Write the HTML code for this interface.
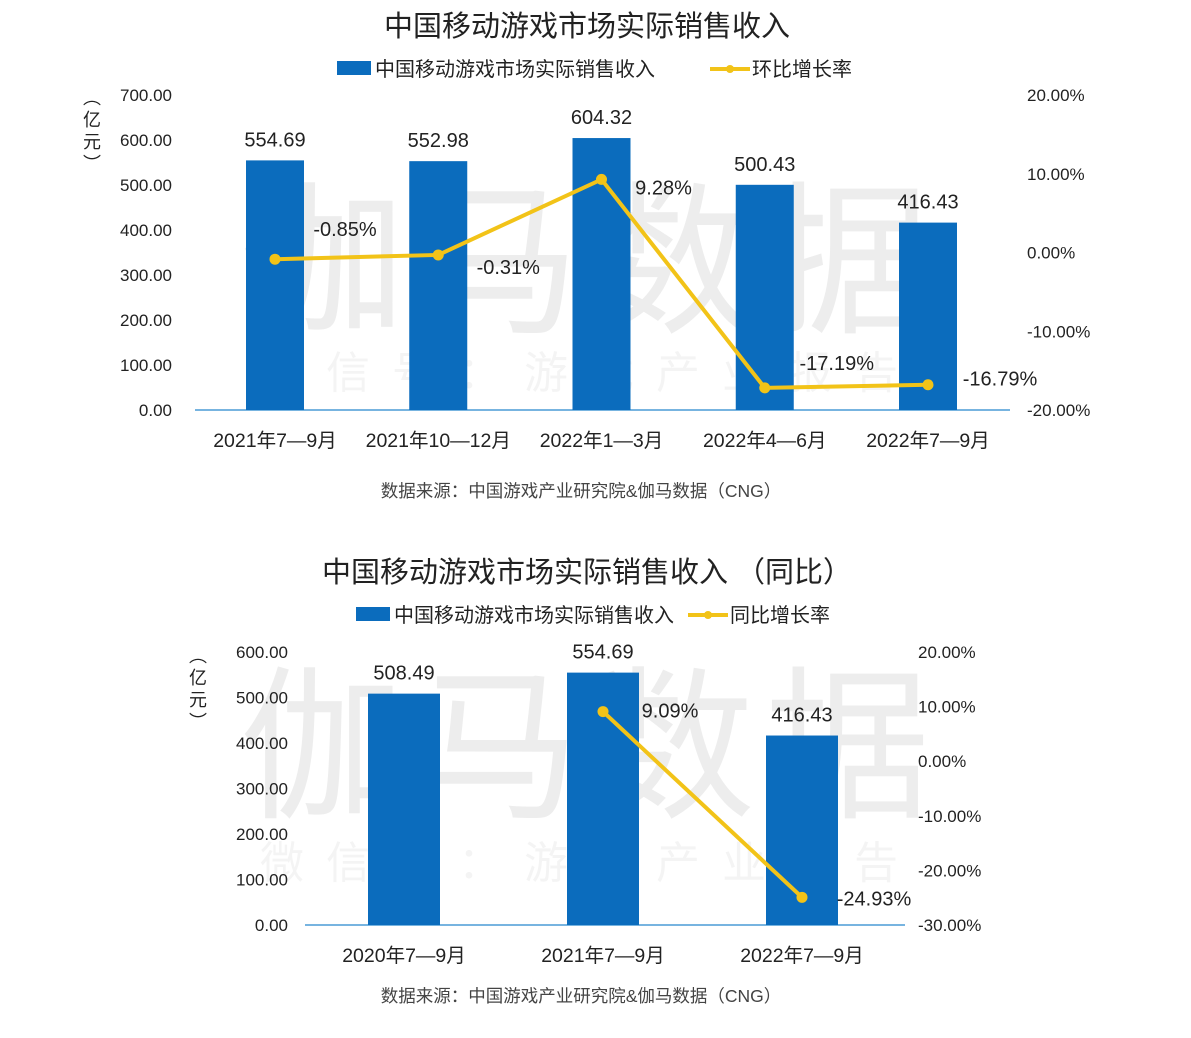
<!DOCTYPE html>
<html><head><meta charset="utf-8">
<style>
html,body{margin:0;padding:0;background:#fff;width:1191px;height:1038px;overflow:hidden}
svg text{font-family:"Liberation Sans","Noto Sans CJK SC",sans-serif}
</style></head>
<body>
<svg id="root" width="1191" height="1038" xmlns="http://www.w3.org/2000/svg">
<g fill="#000">
<text x="590" y="320" font-size="165" text-anchor="middle" letter-spacing="10" fill-opacity="0.07">伽马数据</text>
<text x="590" y="388" font-size="44" text-anchor="middle" letter-spacing="22" fill-opacity="0.045">微信号：游戏产业报告</text>
<text x="590" y="805" font-size="165" text-anchor="middle" letter-spacing="10" fill-opacity="0.07">伽马数据</text>
<text x="590" y="878" font-size="44" text-anchor="middle" letter-spacing="22" fill-opacity="0.045">微信号：游戏产业报告</text>
</g>
<g id="c1"></g>
<g id="c2"></g>
</svg>
<script>
const cats1=["2021年7—9月","2021年10—12月","2022年1—3月","2022年4—6月","2022年7—9月"];
const rev1=[554.69,552.98,604.32,500.43,416.43];
const qoq1=[-0.85,-0.31,9.28,-17.19,-16.79];
const leftTicks1=[0,100,200,300,400,500,600,700];
const rightTicks1=[-20,-10,0,10,20];
const cats2=["2020年7—9月","2021年7—9月","2022年7—9月"];
const rev2=[508.49,554.69,416.43];
const yoy2=[null,9.09,-24.93];
const leftTicks2=[0,100,200,300,400,500,600];
const rightTicks2=[-30,-20,-10,0,10,20];
const NS="http://www.w3.org/2000/svg";
function mk(p,tag,a,txt){const e=document.createElementNS(NS,tag);for(const k in a)e.setAttribute(k,a[k]);if(txt!=null)e.textContent=txt;p.appendChild(e);return e;}
function draw(g,o){
 const yL=v=>o.base-(v-o.lmin)/(o.lmax-o.lmin)*(o.base-o.top);
 const yR=v=>o.base-(v-o.rmin)/(o.rmax-o.rmin)*(o.base-o.top);
 const xC=i=>o.x0+o.step*i;
 let t=mk(g,'text',{x:o.tx,y:o.ty,'font-size':29,'text-anchor':'middle',fill:'#222'},o.title);
 
 let r=mk(g,'rect',{x:o.lgx,y:o.lgy-8,width:34,height:14,fill:'#0b6cbd'});
 
 t=mk(g,'text',{x:o.lgx+38,y:o.lgy+7,'font-size':20,fill:'#222'},'中国移动游戏市场实际销售收入');
 
 let l=mk(g,'line',{x1:o.lgx2,y1:o.lgy,x2:o.lgx2+40,y2:o.lgy,stroke:'#f2c318','stroke-width':4});
 
 mk(g,'circle',{cx:o.lgx2+20,cy:o.lgy,r:4,fill:'#f2c318'});
 t=mk(g,'text',{x:o.lgx2+42,y:o.lgy+7,'font-size':20,fill:'#222'},o.lineName);
 
 const u=mk(g,'g',{});
 
 ['︵','亿','元','︶'].forEach((ch,k)=>mk(u,'text',{x:o.unitX,y:o.unitY+k*22,'font-size':18,'text-anchor':'middle',fill:'#222'},ch));
 o.lt.forEach(v=>{const e=mk(g,'text',{x:o.lax,y:yL(v)+6,'font-size':17,'text-anchor':'end',fill:'#222'},v.toFixed(2));
  });
 o.rt.forEach(v=>{const e=mk(g,'text',{x:o.rax,y:yR(v)+6,'font-size':17,fill:'#222'},v.toFixed(2)+'%');
  });
 l=mk(g,'line',{x1:o.axL,y1:o.base,x2:o.axR,y2:o.base,stroke:'#4a9bd6','stroke-width':1.5});
 
 o.cats.forEach((c,i)=>{
  const b=mk(g,'rect',{x:xC(i)-o.bw/2,y:yL(o.rev[i]),width:o.bw,height:o.base-yL(o.rev[i]),fill:'#0b6cbd'});
  
  const v=mk(g,'text',{x:xC(i),y:yL(o.rev[i])-14,'font-size':20,'text-anchor':'middle',fill:'#222'},o.rev[i].toFixed(2));
  
  const x=mk(g,'text',{x:xC(i),y:o.base+37,'font-size':19.5,'text-anchor':'middle',fill:'#222'},c);
  
 });
 const pts=[];o.pct.forEach((p,i)=>{if(p!=null)pts.push([xC(i),yR(p),p]);});
 const pl=mk(g,'polyline',{points:pts.map(p=>p[0]+','+p[1]).join(' '),fill:'none',stroke:'#f2c318','stroke-width':4});
 
 pts.forEach((p,k)=>{
  const c=mk(g,'circle',{cx:p[0],cy:p[1],r:5.5,fill:'#f2c318'});
  
  const off=o.lblOff[k]||[0,0];
  const e=mk(g,'text',{x:p[0]+off[0],y:p[1]+off[1],'font-size':20,'text-anchor':'middle',fill:'#222'},p[2].toFixed(2)+'%');
  
 });
 t=mk(g,'text',{x:581,y:o.srcY,'font-size':17.5,'text-anchor':'middle',fill:'#444'},'数据来源：中国游戏产业研究院&伽马数据（CNG）');
 
}
draw(document.getElementById('c1'),{title:'中国移动游戏市场实际销售收入',tx:587,ty:36,lgx:337,lgx2:710,lgy:69,lineName:'环比增长率',
 unitX:92,unitY:104,lax:172,rax:1027,lmin:0,lmax:700,rmin:-20,rmax:20,top:95,base:410,x0:275,step:163.25,bw:58,axL:195,axR:1010,
 lt:leftTicks1,rt:rightTicks1,cats:cats1,rev:rev1,pct:qoq1,srcY:497,
 lblOff:[[70,-23],[70,19],[62,15],[72,-18],[72,1]]});
draw(document.getElementById('c2'),{title:'中国移动游戏市场实际销售收入 （同比）',tx:587,ty:582,lgx:356,lgx2:688,lgy:615,lineName:'同比增长率',
 unitX:198,unitY:662,lax:288,rax:918,lmin:0,lmax:600,rmin:-30,rmax:20,top:652,base:925,x0:404,step:199,bw:72,axL:305,axR:905,
 lt:leftTicks2,rt:rightTicks2,cats:cats2,rev:rev2,pct:yoy2,srcY:1002,
 lblOff:[[67,6],[72,8]]});
</script>
</body></html>
